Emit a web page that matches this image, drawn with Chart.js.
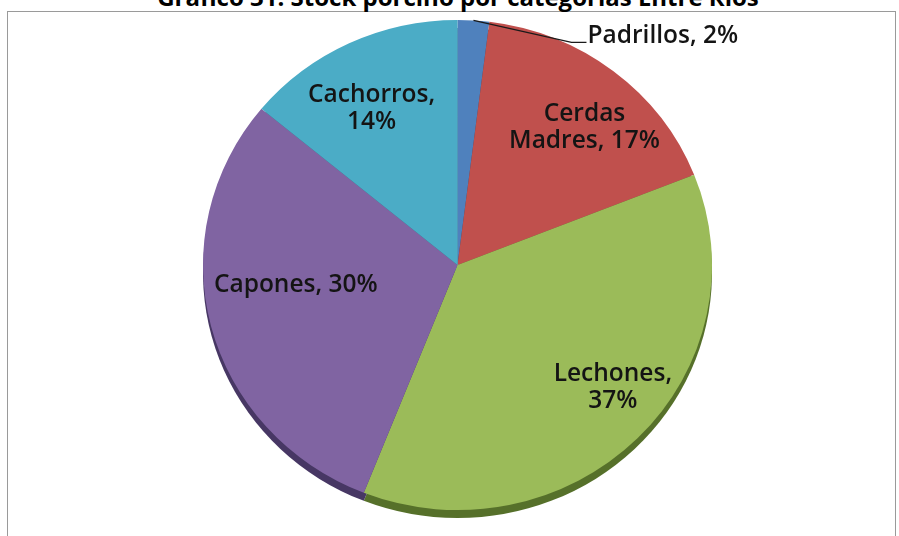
<!DOCTYPE html>
<html lang="es">
<head>
<meta charset="utf-8">
<title>Stock porcino por categorías Entre Ríos</title>
<script src="https://cdn.jsdelivr.net/npm/chart.js@4/dist/chart.umd.min.js"></script>
<style>
    html, body {
        margin: 0;
        padding: 0;
        background: #fff;
    }
    .wrap {
        position: relative;
        width: 899px;
        height: 536px;
        overflow: hidden;
        background: #fff;
    }
    .frame {
        position: absolute;
        left: 7px;
        top: 11px;
        width: 889px;
        height: 560px;
        border: 1px solid #9a9a9a;
        box-sizing: border-box;
    }
    .title {
        position: absolute;
        left: 0;
        width: 916px;
        top: -15px;
        text-align: center;
        font-family: "Open Sans", sans-serif;
        font-weight: 700;
        font-size: 24px;
        line-height: 24px;
        color: #000;
        white-space: nowrap;
    }
    canvas {
        position: absolute;
        left: 0;
        top: 0;
    }
</style>
</head>
<body>
<div class="wrap">
    <div class="frame"></div>
    <div class="title">Gráfico 31. Stock porcino por categorías Entre Ríos</div>
    <canvas id="pie" width="899" height="536"></canvas>
</div>
<script>
// Data (percent of total stock)
const categories = ['Padrillos', 'Cerdas Madres', 'Lechones', 'Capones', 'Cachorros'];
const shares = [2, 17, 37, 30, 14];

// Slice colours (Office palette) and darker rim for the 3D edge
const sliceColors = ['#4f81bd', '#c0504d', '#9bbb59', '#8064a2', '#4bacc6'];
const rimColors = ['#2f4e75', '#7a2f2d', '#56702a', '#473764', '#2c6e80'];

// Label lines as drawn in the original
const labelLines = [
    ['Padrillos, 2%'],
    ['Cerdas', 'Madres, 17%'],
    ['Lechones,', '37%'],
    ['Capones, 30%'],
    ['Cachorros,', '14%']
];

// Label placement: distance along the slice bisector (fraction of radius) + small nudge
const labelPlacement = [
    { outside: true, lead: [98, 22], tail: 15 },
    { dist: 0.75, dx: 10, dy: 8 },
    { dist: 0.78, dx: 15, dy: -13 },
    { dist: 0.66, dx: 1, dy: -20 },
    { dist: 0.71, dx: -9, dy: 1 }
];

const Y_SCALE = 0.963;   // pie is slightly squashed (tilted 3D look)
const DEPTH = 8;         // rim thickness in px

const ellipsePlugin = {
    id: 'ellipse',
    beforeDatasetsDraw(chart) {
        const ctx = chart.ctx;
        const arcs = chart.getDatasetMeta(0).data;
        const cx = arcs[0].x;
        const cy = arcs[0].y;
        ctx.save();
        ctx.translate(cx, cy);
        ctx.scale(1, Y_SCALE);
        ctx.translate(-cx, -cy);

        // Rim below the face
        arcs.forEach((arc, i) => {
            const p = arc.getProps(['startAngle', 'endAngle', 'outerRadius']);
            ctx.save();
            ctx.translate(0, DEPTH / Y_SCALE);
            ctx.beginPath();
            ctx.moveTo(cx, cy);
            ctx.arc(cx, cy, p.outerRadius, p.startAngle, p.endAngle);
            ctx.closePath();
            ctx.fillStyle = rimColors[i];
            ctx.fill();
            ctx.restore();
        });
    },
    afterDatasetsDraw(chart) {
        chart.ctx.restore();
    }
};

const labelPlugin = {
    id: 'sliceLabels',
    afterDraw(chart) {
        const ctx = chart.ctx;
        const arcs = chart.getDatasetMeta(0).data;
        ctx.save();
        ctx.font = '600 24.5px "Open Sans", sans-serif';
        ctx.fillStyle = '#141414';

        arcs.forEach((arc, i) => {
            const p = arc.getProps(['x', 'y', 'startAngle', 'endAngle', 'outerRadius']);
            const mid = (p.startAngle + p.endAngle) / 2;
            const place = labelPlacement[i];
            const lines = labelLines[i];

            if (place.outside) {
                // Leader line from the slice edge to the label
                const sx = p.x + Math.cos(mid) * p.outerRadius;
                const sy = p.y + Math.sin(mid) * p.outerRadius * Y_SCALE;
                const ex = sx + place.lead[0];
                const ey = sy + place.lead[1];
                ctx.beginPath();
                ctx.moveTo(sx, sy);
                ctx.lineTo(ex, ey);
                ctx.lineTo(ex + place.tail, ey);
                ctx.strokeStyle = '#1a1a1a';
                ctx.lineWidth = 1.2;
                ctx.stroke();
                ctx.textAlign = 'left';
                ctx.textBaseline = 'alphabetic';
                ctx.fillText(lines[0], ex + place.tail + 1, ey + 1);
                return;
            }

            const r = p.outerRadius * place.dist;
            const lx = p.x + Math.cos(mid) * r + place.dx;
            const ly = p.y + Math.sin(mid) * r * Y_SCALE + place.dy;
            const lineH = 27;
            const top = ly - (lines.length - 1) * lineH / 2;
            ctx.textAlign = 'center';
            ctx.textBaseline = 'middle';
            lines.forEach((txt, k) => ctx.fillText(txt, lx, top + k * lineH));
        });
        ctx.restore();
    }
};

new Chart(document.getElementById('pie'), {
    type: 'pie',
    data: {
        labels: categories,
        datasets: [{
            data: shares,
            backgroundColor: sliceColors,
            borderWidth: 0
        }]
    },
    options: {
        responsive: false,
        animation: false,
        rotation: 0,
        layout: {
            padding: { left: 203, right: 187, top: 10.5, bottom: 16.5 }
        },
        plugins: {
            legend: { display: false },
            tooltip: { enabled: false },
            title: { display: false }
        }
    },
    plugins: [ellipsePlugin, labelPlugin]
});
</script>
</body>
</html>
